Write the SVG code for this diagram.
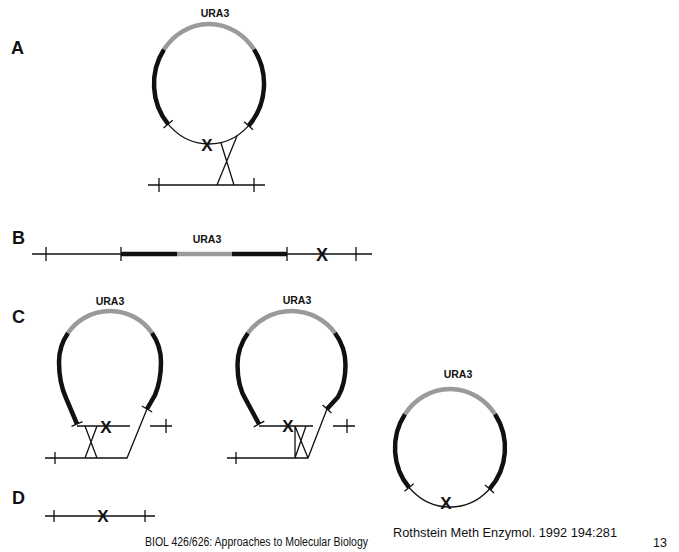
<svg xmlns="http://www.w3.org/2000/svg" width="679" height="552" viewBox="0 0 679 552">
<style>
.thin{stroke:#111;stroke-width:1.3;fill:none}
.thick{stroke:#111;stroke-width:4.5;fill:none}
.gray{stroke:#9a9a9a;stroke-width:4.5;fill:none}
.lbl{font-family:"Liberation Sans",Arial,sans-serif;font-weight:bold;font-size:10.5px;fill:#111;text-anchor:middle}
.xm{font-family:"Liberation Sans",Arial,sans-serif;font-weight:bold;font-size:17px;fill:#111;text-anchor:middle}
.panel{font-family:"Liberation Sans",Arial,sans-serif;font-weight:bold;font-size:18px;fill:#111}
.foot{font-family:"Liberation Sans",Arial,sans-serif;fill:#111}
</style>
<rect width="679" height="552" fill="#fff"/>

<g id="panel-letters">
<text class="panel" x="11" y="54">A</text>
<text class="panel" x="12" y="244">B</text>
<text class="panel" x="12" y="323">C</text>
<text class="panel" x="12" y="504">D</text>
</g>

<g id="plasmidA">
<ellipse class="thin" cx="209" cy="84" rx="55" ry="60"/>
<path class="thick" d="M168.1,124.1 A55,60 0 0 1 163.95,49.59"/>
<path class="gray" d="M163.95,49.59 A55,60 0 0 1 254.05,49.59"/>
<path class="thick" d="M254.05,49.59 A55,60 0 0 1 248.6,125.7"/>
<path class="thin" d="M163.5,127.9 L172.7,120.3 M244.1,121.7 L253.1,129.7"/>
<text class="lbl" x="215" y="17">URA3</text>
<text class="xm" x="207" y="151">X</text>
</g>

<g id="connectors">
<path class="thin" d="M221,143 L234,185 M237,136 L217,185"/>
</g>

<g id="chromA">
<path class="thin" d="M148,185 H265 M159,178 V192 M254,178 V192"/>
</g>

<g id="integrantB">
<path class="thin" d="M32,254 H372 M46,247 V261 M356,247 V261 M121,247 V261 M287,247 V261"/>
<path class="thick" d="M121,254 H177 M232,254 H287"/>
<path class="gray" d="M177,254 H232"/>
<text class="lbl" x="207" y="243">URA3</text>
<text class="xm" x="322" y="260.5" style="font-size:18px">X</text>
</g>

<g id="loopC1">
<path class="thick" d="M68,333 A51,51 0 0 0 59,362 C59,378 62,389 66,398 L77,424"/>
<path class="gray" d="M68,333 A51,51 0 0 1 152,333"/>
<path class="thick" d="M152,333 A51,51 0 0 1 161,362 C161,378 158,388 155,395 L147,409"/>
<path class="thin" d="M71.5,426.3 L82.5,421.7 M141.8,406 L152.2,412"/>
<path class="thin" d="M77,426 H130 M85,426 L97,458 M97,426 L85,458 M45,458 H127 L147,409 M55,452 V464 M150,426 H172 M166,419 V433"/>
<text class="lbl" x="110" y="305">URA3</text>
<text class="xm" x="106" y="433">X</text>
</g>

<g id="loopC2">
<path class="thick" d="M248,333 A54,54 0 0 0 237.5,365 C237.5,380 241,392 246,400 L259,424"/>
<path class="gray" d="M248,333 A54,54 0 0 1 335,333"/>
<path class="thick" d="M335,333 A54,54 0 0 1 345.5,365 C345.5,380 342,390 338,397 L327,409"/>
<path class="thin" d="M253.7,426.9 L264.3,421.1 M322.6,405 L331.4,413"/>
<path class="thin" d="M259,426 H313 M295,426 L308,458 M306,426 L295,458 M295,426 V458 M227,458 H308 L327,409 M236,452 V464 M333,426 H355 M347,419 V433"/>
<text class="lbl" x="297" y="304">URA3</text>
<text class="xm" x="288" y="432">X</text>
</g>

<g id="plasmidC">
<ellipse class="thin" cx="450" cy="448" rx="55" ry="59"/>
<path class="thick" d="M409.1,487.5 A55,59 0 0 1 404.95,414.16"/>
<path class="gray" d="M404.95,414.16 A55,59 0 0 1 495.05,414.16"/>
<path class="thick" d="M495.05,414.16 A55,59 0 0 1 489.5,489"/>
<path class="thin" d="M404.5,491.3 L413.7,483.7 M485,485 L494,493"/>
<text class="lbl" x="458" y="378">URA3</text>
<text class="xm" x="446" y="509">X</text>
</g>

<g id="chromD">
<path class="thin" d="M45,516 H155 M54,510 V522 M145,510 V522"/>
<text class="xm" x="103" y="522">X</text>
</g>

<g id="footer">
<text class="foot" x="393" y="537" font-size="13.5" textLength="224" lengthAdjust="spacingAndGlyphs">Rothstein Meth Enzymol. 1992 194:281</text>
<text class="foot" x="145" y="546" font-size="12.5" textLength="223" lengthAdjust="spacingAndGlyphs">BIOL 426/626: Approaches to Molecular Biology</text>
<text class="foot" x="653" y="547" font-size="12.5">13</text>
</g>
</svg>
